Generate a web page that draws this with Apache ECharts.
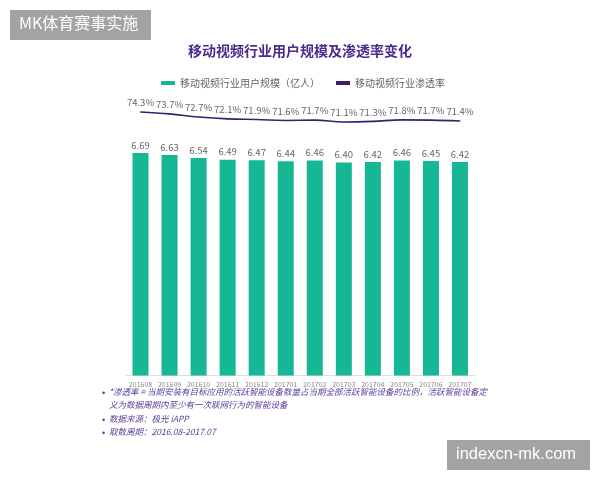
<!DOCTYPE html>
<html><head><meta charset="utf-8">
<script src="https://cdn.jsdelivr.net/npm/echarts@6/dist/echarts.min.js"></script>
<style>html,body{margin:0;padding:0;background:#fff}#c{width:600px;height:480px}</style>
</head><body><div id="c"></div>
<script>
const categories = ['201608','201609','201610','201611','201612','201701','201702','201703','201704','201705','201706','201707'];
const userScale = [6.69,6.63,6.54,6.49,6.47,6.44,6.46,6.40,6.42,6.46,6.45,6.42];
const penetration = [74.3,73.7,72.7,72.1,71.9,71.6,71.7,71.1,71.3,71.8,71.7,71.4];
const seriesNames = ['移动视频行业用户规模（亿人）','移动视频行业渗透率'];
const titleText = '移动视频行业用户规模及渗透率变化';
const notes = [
  '*渗透率 = 当期安装有目标应用的活跃智能设备数量占当期全部活跃智能设备的比例，活跃智能设备定',
  '义为数据周期内至少有一次联网行为的智能设备',
  '数据来源：极光 iAPP',
  '取数周期：2016.08-2017.07'
];
const tagLeft = 'MK体育赛事实施';
const tagRight = 'indexcn-mk.com';

const font = '"Noto Sans CJK SC", "Noto Sans", sans-serif';
const chart = echarts.init(document.getElementById('c'), null, {renderer:'canvas'});
chart.setOption({
  backgroundColor:'#fff',
  animation:false,
  textStyle:{fontFamily:font},
  title:{text:titleText,left:'center',top:39,textStyle:{fontSize:14,fontWeight:'bold',color:'#4a2a8c',fontFamily:font}},
  legend:{top:73,left:156,itemGap:16,itemWidth:14,itemHeight:4,padding:[5,5],
    textStyle:{fontSize:10,color:'#666',fontFamily:font},
    data:[{name:seriesNames[0],icon:'rect'},{name:seriesNames[1],icon:'rect',itemStyle:{color:'#3b1f6e'}}]},
  grid:[
    {left:126,right:125.5,top:109.4,height:266.1},
    {left:126,right:125.5,top:94.2,height:37.5}
  ],
  xAxis:[
    {type:'category',gridIndex:0,data:categories,
      axisLine:{lineStyle:{color:'#ddd'}},axisTick:{show:false},
      axisLabel:{fontSize:7,color:'#888',margin:5,interval:0}},
    {type:'category',gridIndex:1,data:categories,show:false}
  ],
  yAxis:[
    {type:'value',gridIndex:0,min:0,max:8,show:false,splitLine:{show:false}},
    {type:'value',gridIndex:1,min:68,max:80,show:false,splitLine:{show:false}}
  ],
  series:[
    {name:seriesNames[0],type:'bar',xAxisIndex:0,yAxisIndex:0,data:userScale,barWidth:16,
      itemStyle:{color:'#16b795'},
      label:{show:true,position:'top',distance:3,fontSize:9.5,color:'#666',formatter:p=>p.value.toFixed(2)}},
    {name:seriesNames[1],type:'line',xAxisIndex:1,yAxisIndex:1,data:penetration,smooth:0.4,
      symbol:'circle',symbolSize:1,showSymbol:true,
      lineStyle:{color:'#3b1f6e',width:1.6},itemStyle:{color:'#3b1f6e'},
      label:{show:true,position:'top',distance:4,fontSize:9.5,color:'#666',formatter:p=>p.value.toFixed(1)+'%'}}
  ],
  graphic:[
    {type:'rect',left:10,top:10,shape:{width:141,height:30},style:{fill:'#a3a3a3'}},
    {type:'text',left:19,top:15,style:{text:tagLeft,fontSize:16,fill:'#fff',fontFamily:font}},
    {type:'rect',left:447,top:440,shape:{width:143,height:30},style:{fill:'#a3a3a3'}},
    {type:'text',left:456,top:446,style:{text:tagRight,fontSize:16.5,fill:'#fff',fontFamily:'"Liberation Sans", sans-serif'}},
    {type:'text',left:102,top:389,style:{text:'•',fontSize:9,fill:'#5b3d99'}},
    {type:'text',left:102,top:416,style:{text:'•',fontSize:9,fill:'#5b3d99'}},
    {type:'text',left:102,top:429,style:{text:'•',fontSize:9,fill:'#5b3d99'}},
    {type:'text',left:109,top:388,style:{text:notes[0],fontSize:8.5,fontStyle:'italic',fill:'#5b3d99',fontFamily:font}},
    {type:'text',left:109,top:401,style:{text:notes[1],fontSize:8.5,fontStyle:'italic',fill:'#5b3d99',fontFamily:font}},
    {type:'text',left:109,top:415,style:{text:notes[2],fontSize:8.5,fontStyle:'italic',fill:'#5b3d99',fontFamily:font}},
    {type:'text',left:109,top:428,style:{text:notes[3],fontSize:8.5,fontStyle:'italic',fill:'#5b3d99',fontFamily:font}}
  ]
});
</script></body></html>
